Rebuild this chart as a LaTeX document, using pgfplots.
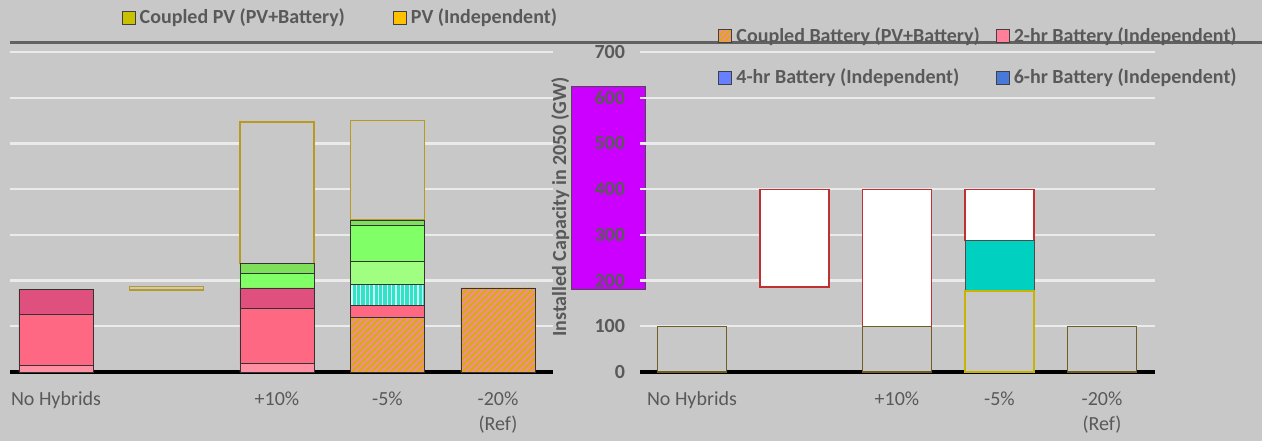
\documentclass[border=0pt]{standalone}
\usepackage{pgfplots}
\pgfplotsset{compat=1.18}
\usetikzlibrary{patterns,patterns.meta}
\usepackage{fontspec}
\setmainfont{Carlito}
\definecolor{bg}{HTML}{C8C8C8}
\definecolor{gridc}{HTML}{EBEBEB}
\definecolor{txt}{HTML}{595959}
\definecolor{pinkL}{HTML}{FF8FA3}
\definecolor{pinkM}{HTML}{FF6883}
\definecolor{pinkD}{HTML}{E0507F}
\definecolor{cbOr}{HTML}{D6B000}
\definecolor{cbSt}{HTML}{F28A98}
\definecolor{cyS}{HTML}{33E0C8}
\definecolor{cyP}{HTML}{C8FFF0}
\definecolor{grL}{HTML}{A0FF80}
\definecolor{grM}{HTML}{80FF66}
\definecolor{grD}{HTML}{7EE05A}
\definecolor{mag}{HTML}{CC00FF}
\definecolor{cyR}{HTML}{00D0C0}
\definecolor{olv}{HTML}{6E5E22}
\definecolor{yel}{HTML}{C8B400}
\definecolor{redE}{HTML}{C03030}
\definecolor{cpv}{HTML}{C8C000}
\definecolor{pvc}{HTML}{FFC000}
\definecolor{b2}{HTML}{FF8098}
\definecolor{b4}{HTML}{6680FF}
\definecolor{b6}{HTML}{4878D8}
\definecolor{gold}{HTML}{B89A20}
\pgfplotsset{
  sq legend/.style={legend image code/.code={\draw[##1] (0pt,-3.2pt) rectangle (6.4pt,3.2pt);}},
  base/.style={scale only axis, height=165pt, ymin=0, ymax=722, ybar stacked,
    ytick={0,100,...,700}, ymajorgrids, grid style={gridc, line width=1.1pt},
    axis x line*=bottom, axis y line*=left, y axis line style={draw=none},
    x axis line style={black, line width=1.6pt}, tick style={draw=none},
    xtick={0,...,4},
    xticklabel style={font=\fontsize{10}{12.5}\selectfont, text=txt, align=center, yshift=-6.5pt},
    yticklabel style={font=\bfseries\fontsize{10}{12}\selectfont, text=txt},
    /pgf/number format/assume math mode=true, clip=false, legend cell align=left},
}
\begin{document}
\begin{tikzpicture}
\fill[bg] (0,0) rectangle (631pt,220.5pt);
\useasboundingbox (0,0) rectangle (631pt,220.5pt);
\draw[line width=1.75pt, color=black!62] (5pt,199.3pt) -- (631pt,199.3pt);
% ---------------- left panel ----------------
\begin{axis}[base, at={(5pt,34.5pt)}, anchor=south west, width=271.5pt,
  xmin=-0.416, xmax=4.498, bar width=37pt, yticklabels={},
  xticklabels={No Hybrids,,+10\%,-5\%,{-20\%\\(Ref)}},
  legend columns=2,
  legend style={draw=none, fill=none, inner sep=0pt, at={(0.205,1.073)}, anchor=west,
    font=\bfseries\fontsize{10}{12}\selectfont, text=txt,
    /tikz/every even column/.append style={column sep=22pt}}]
\addplot[forget plot, fill=cbOr, draw=black!80, postaction={pattern={Lines[angle=45,distance=2.3pt,line width=1.15pt]}, pattern color=cbSt}]
  coordinates {(0,0) (1,0) (2,0) (3,120) (4,184) (5,0)};
\addplot[forget plot, fill=pinkL, draw=black!80] coordinates {(0,15) (1,0) (2,18) (3,0) (4,0) (5,0)};
\addplot[forget plot, fill=pinkM, draw=black!80] coordinates {(0,110) (1,0) (2,122) (3,26) (4,0) (5,0)};
\addplot[forget plot, fill=pinkD, draw=black!80] coordinates {(0,55) (1,0) (2,44) (3,0) (4,0) (5,0)};
\addplot[forget plot, fill=cyS, draw=black!80, postaction={pattern={Lines[angle=90,distance=2.2pt,line width=0.6pt]}, pattern color=cyP}]
  coordinates {(0,0) (1,0) (2,0) (3,46) (4,0) (5,0)};
\addplot[forget plot, fill=grL, draw=black!80] coordinates {(0,0) (1,0) (2,0) (3,51) (4,0) (5,0)};
\addplot[forget plot, fill=grM, draw=black!80] coordinates {(0,0) (1,0) (2,31) (3,77) (4,0) (5,0)};
\addplot[forget plot, fill=grD, draw=black!80] coordinates {(0,0) (1,0) (2,22) (3,12) (4,0) (5,0)};
\addplot[forget plot, fill=none, draw=none] coordinates {(0,0) (1,180) (2,0) (3,0) (4,0) (5,180)};
\addplot[forget plot, fill=bg, draw=gold, line width=0.8pt] coordinates {(0,0) (1,7) (2,310) (3,218) (4,0) (5,0)};
\addplot[forget plot, fill=mag, draw=black!70] coordinates {(0,0) (1,0) (2,0) (3,0) (4,0) (5,444)};
\addlegendimage{sq legend, fill=cpv, draw=black!75, line width=0.6pt}
\addlegendentry{Coupled PV (PV+Battery)}
\addlegendimage{sq legend, fill=pvc, draw=black!75, line width=0.6pt}
\addlegendentry{PV (Independent)}
\end{axis}
% ---------------- right panel ----------------
\begin{axis}[base, at={(320pt,34.5pt)}, anchor=south west, width=257.5pt,
  xmin=-0.507, xmax=4.517, bar width=34.5pt,
  yticklabel style={xshift=-4pt},
  xticklabels={No Hybrids,,+10\%,-5\%,{-20\%\\(Ref)}},
  ylabel={Installed Capacity in 2050 (GW)},
  every axis y label/.style={at={(axis description cs:-0.155,0.5)}, rotate=90, anchor=center,
    font=\bfseries\fontsize{10}{12}\selectfont, text=txt},
  legend columns=2,
  legend style={draw=none, fill=none, inner sep=0pt, at={(0.15,1.058)}, anchor=north west,
    font=\bfseries\fontsize{10}{12}\selectfont, text=txt, row sep=8pt,
    /tikz/every even column/.append style={column sep=6pt}}]
\addplot[forget plot, fill=bg, draw=olv, line width=0.7pt] coordinates {(0,100) (1,0) (2,100) (3,0) (4,100)};
\addplot[forget plot, fill=bg, draw=yel, line width=1pt] coordinates {(0,0) (1,0) (2,0) (3,178) (4,0)};
\addplot[forget plot, fill=none, draw=none] coordinates {(0,0) (1,186) (2,0) (3,0) (4,0)};
\addplot[forget plot, fill=cyR, draw=black!70] coordinates {(0,0) (1,0) (2,0) (3,110) (4,0)};
\addplot[forget plot, fill=white, draw=redE, line width=0.6pt] coordinates {(0,0) (1,214) (2,300) (3,112) (4,0)};
\addlegendimage{sq legend, fill=cbOr, draw=black!75, line width=0.6pt, postaction={pattern={Lines[angle=45,distance=2pt,line width=1pt]}, pattern color=cbSt}}
\addlegendentry{Coupled Battery (PV+Battery)}
\addlegendimage{sq legend, fill=b2, draw=black!75, line width=0.6pt}
\addlegendentry{2-hr Battery (Independent)}
\addlegendimage{sq legend, fill=b4, draw=black!75, line width=0.6pt}
\addlegendentry{4-hr Battery (Independent)}
\addlegendimage{sq legend, fill=b6, draw=black!75, line width=0.6pt}
\addlegendentry{6-hr Battery (Independent)}
\end{axis}
\end{tikzpicture}
\end{document}
